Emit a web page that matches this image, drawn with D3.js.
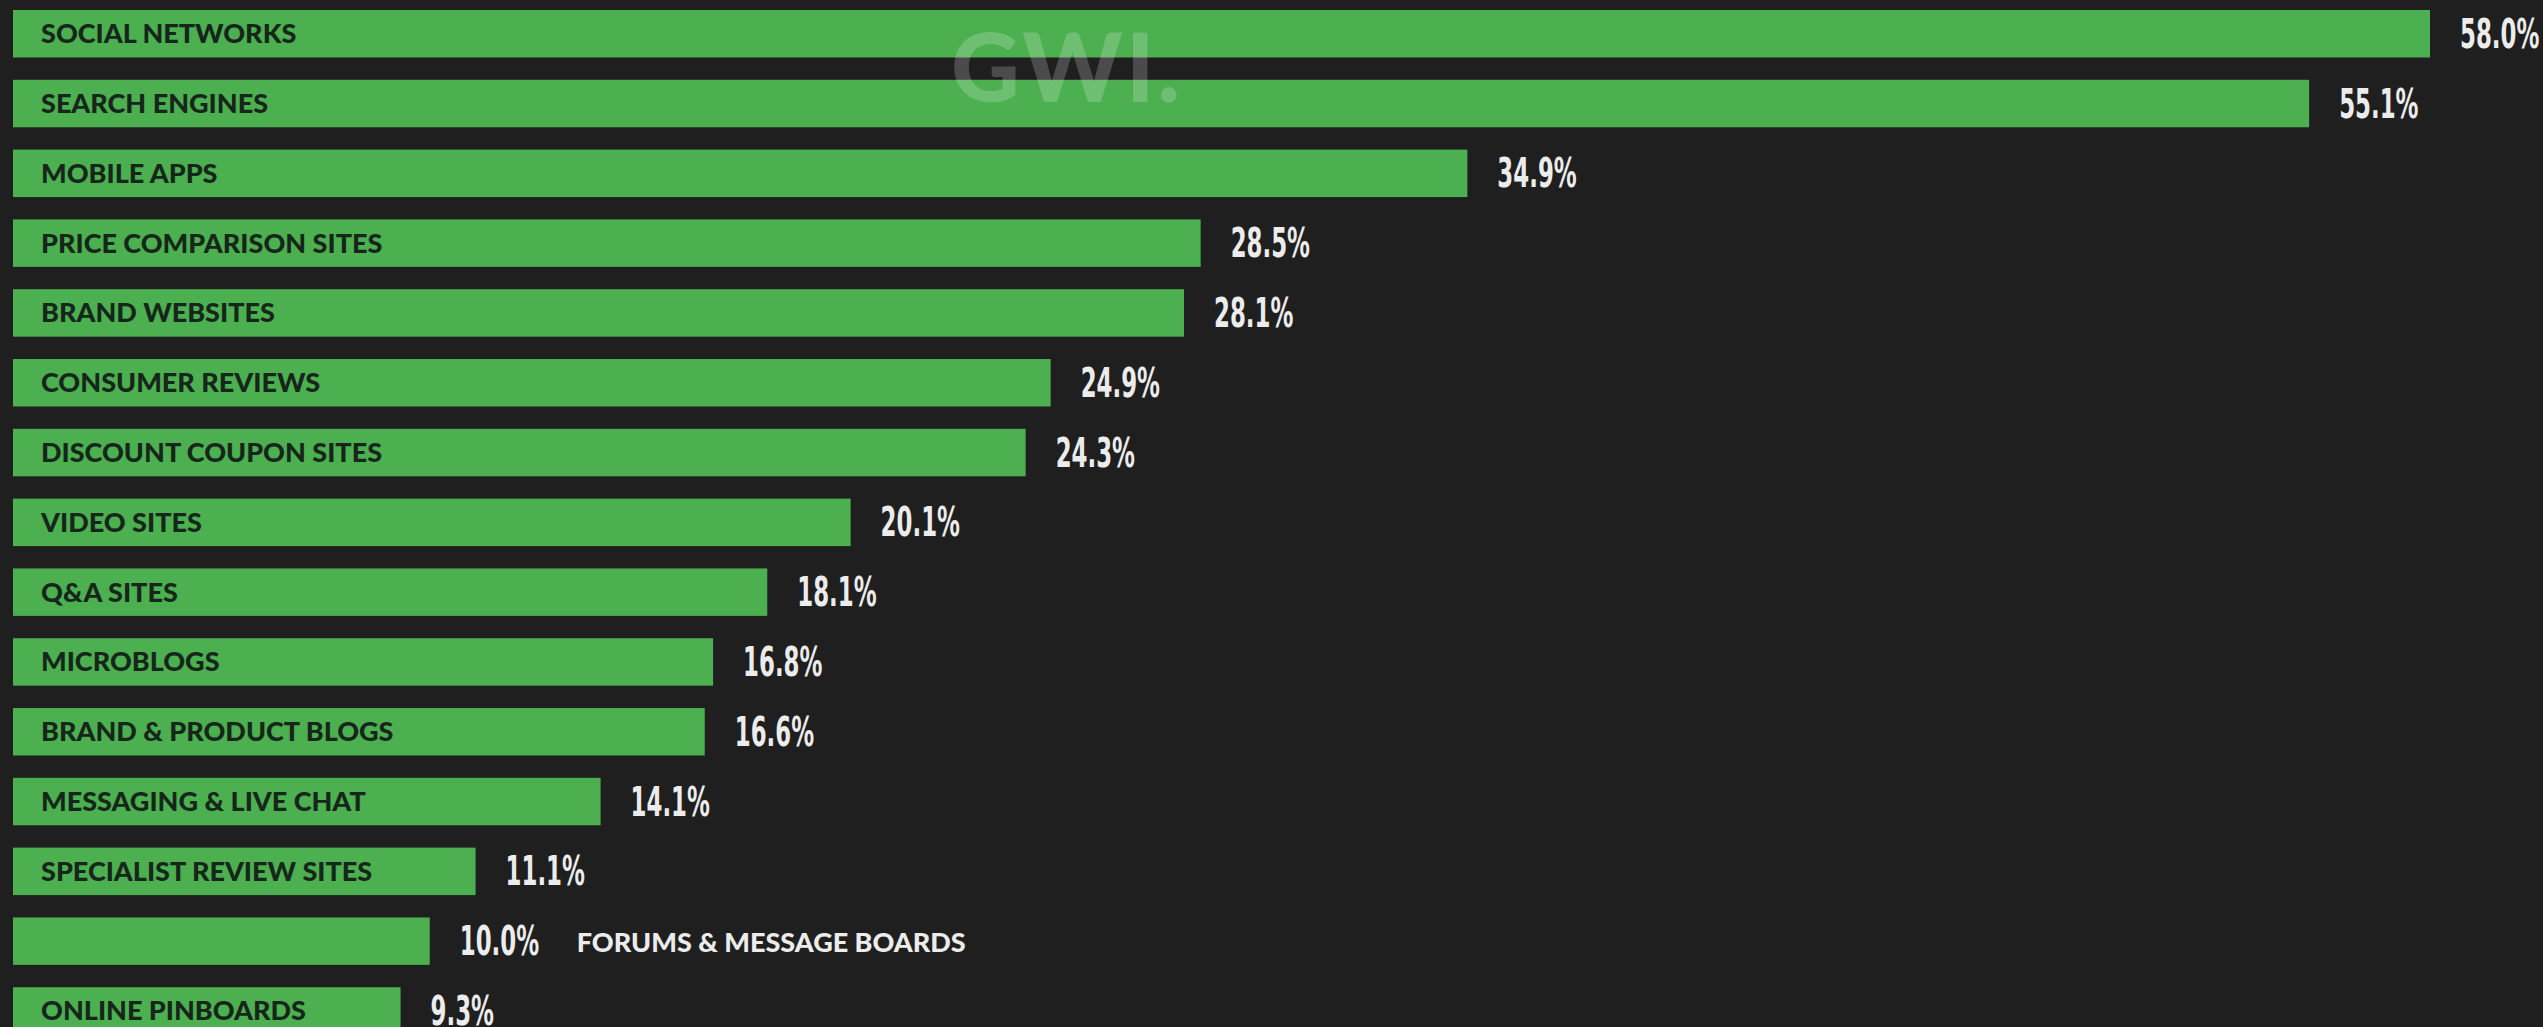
<!DOCTYPE html>
<html>
<head>
<meta charset="utf-8">
<script src="https://cdn.jsdelivr.net/npm/d3@7"></script>
<style>
  html, body { margin: 0; padding: 0; background: #1f1f1f; overflow: hidden; }
  svg { display: block; }
</style>
</head>
<body>
<svg id="chart" width="2543" height="1027"></svg>
<script>
// Channels used for brand research (% of internet users)
const categories = [
  "SOCIAL NETWORKS", "SEARCH ENGINES", "MOBILE APPS", "PRICE COMPARISON SITES",
  "BRAND WEBSITES", "CONSUMER REVIEWS", "DISCOUNT COUPON SITES", "VIDEO SITES",
  "Q&A SITES", "MICROBLOGS", "BRAND & PRODUCT BLOGS", "MESSAGING & LIVE CHAT",
  "SPECIALIST REVIEW SITES", "FORUMS & MESSAGE BOARDS", "ONLINE PINBOARDS"
];
const values = [58.0, 55.1, 34.9, 28.5, 28.1, 24.9, 24.3, 20.1, 18.1, 16.8, 16.6, 14.1, 11.1, 10.0, 9.3];
// Bars too short to hold their name get it printed after the value instead
const outsideLabels = ["FORUMS & MESSAGE BOARDS"];

const data = categories.map((c, i) => ({ name: c, value: values[i] }));

const W = 2543, H = 1027;
const svg = d3.select("#chart");
svg.append("rect").attr("width", W).attr("height", H).attr("fill", "#1f1f1f");

const x = d3.scaleLinear().domain([0, 58]).range([13, 2430]);
const y = d3.scaleBand()
  .domain(categories)
  .range([10, 10 + 69.8 * 14 + 47.5])
  .paddingInner(0.32)
  .paddingOuter(0)
  .align(0);

const fmt = v => v.toFixed(1) + "%";

const rows = svg.append("g").selectAll("g.row")
  .data(data)
  .join("g")
  .attr("class", "row");

rows.append("rect")
  .attr("x", x(0))
  .attr("y", d => y(d.name))
  .attr("width", d => x(d.value) - x(0))
  .attr("height", y.bandwidth())
  .attr("fill", "#4caf50");

// Category names inside the bars
rows.filter(d => !outsideLabels.includes(d.name))
  .append("text")
  .attr("x", 41)
  .attr("y", d => y(d.name) + y.bandwidth() / 2 + 9.5)
  .attr("font-family", "Lato, 'Noto Sans', sans-serif")
  .attr("font-weight", 900)
  .attr("font-size", 27)
  .attr("fill", "#16261a")
  .text(d => d.name);

// Value labels in a narrow face
const vlab = rows.append("g")
  .attr("transform", d => `translate(${x(d.value) + 30},${y(d.name) + y.bandwidth() / 2 + 14}) scale(0.62,1)`);
vlab.append("text")
  .attr("class", "val")
  .attr("x", 0)
  .attr("y", 0)
  .attr("font-family", "'Liberation Sans Narrow', 'DejaVu Sans Condensed', sans-serif")
  .attr("font-weight", 700)
  .attr("font-size", 41)
  .attr("fill", "#ececec")
  .text(d => fmt(d.value));

// Names placed after the value for short bars
rows.filter(d => outsideLabels.includes(d.name))
  .append("text")
  .attr("x", d => x(d.value) + 147)
  .attr("y", d => y(d.name) + y.bandwidth() / 2 + 10.5)
  .attr("font-family", "Lato, 'Noto Sans', sans-serif")
  .attr("font-weight", 900)
  .attr("font-size", 27)
  .attr("fill", "#ececec")
  .text(d => d.name);

// Brand watermark
svg.append("text")
  .attr("x", 951)
  .attr("y", 102)
  .attr("font-family", "Lato, sans-serif")
  .attr("font-weight", 900)
  .attr("font-size", 95)
  .attr("letter-spacing", 3)
  .attr("fill", "#ffffff")
  .attr("fill-opacity", 0.2)
  .text("GWI.");
</script>
</body>
</html>
